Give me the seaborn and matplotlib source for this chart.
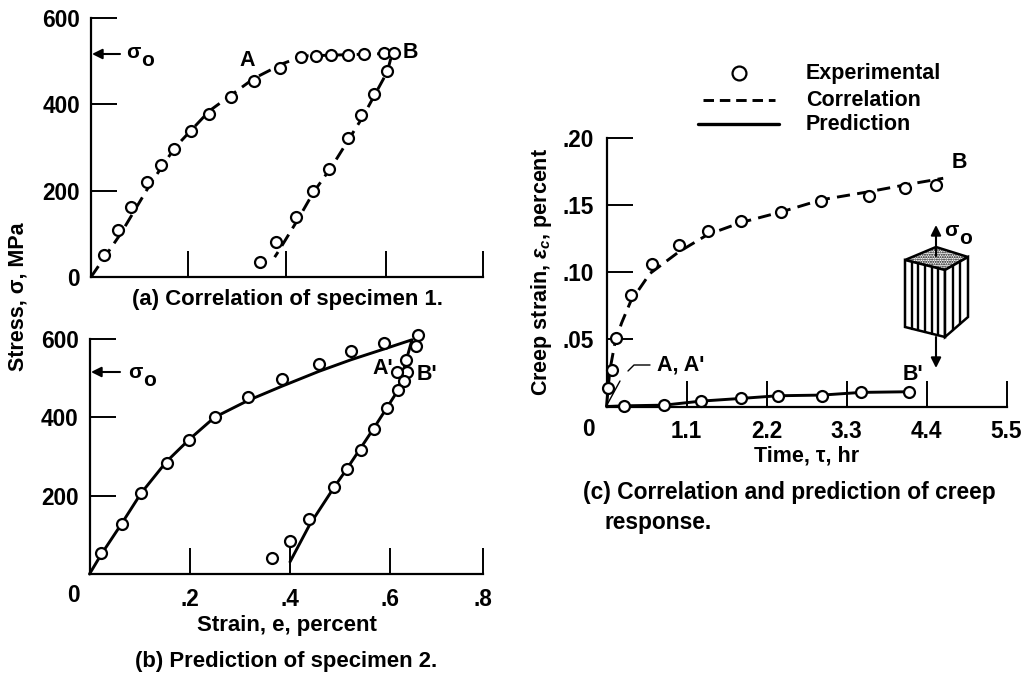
import matplotlib
matplotlib.use('Agg')
import matplotlib.pyplot as plt
import numpy as np
import seaborn as sns

# ~~~ values ~~~
# (a) specimen 1
a_exp_x = [.027, .055, .081, .113, .141, .169, .203, .239, .284, .330, .382, .426, .455, .486, .520, .553, .593, .613,
           .600, .574, .546, .520, .483, .449, .416, .374, .343]
a_exp_y = [52, 110, 163, 220, 260, 297, 339, 378, 416, 454, 485, 510, 513, 515, 515, 516, 520, 519,
           478, 423, 375, 322, 251, 200, 139, 81, 35]
a_line_x = [0, .06, .12, .17, .24, .33, .39, .43, .61, .60, .55, .49, .45, .42, .38, .372]
a_line_y = [0, 100, 215, 300, 385, 460, 495, 512, 518, 475, 370, 260, 195, 135, 60, 46]
a_xticks = [.197, .395, .598, .794]

# (b) specimen 2
b_exp_x = [.023, .064, .103, .154, .199, .250, .317, .384, .458, .523, .588, .656,
           .652, .633, .635, .614, .628, .617, .594, .568, .542, .514, .489, .438, .400, .364]
b_exp_y = [53, 128, 206, 284, 343, 400, 452, 498, 535, 569, 589, 610,
           581, 546, 515, 515, 493, 469, 423, 371, 316, 267, 221, 141, 84, 40]
b_line_x = [0, .023, .064, .103, .154, .199, .250, .317, .384, .458, .523, .588, .645,
            .630, .617, .568, .514, .489, .440, .401]
b_line_y = [0, 49, 128, 206, 287, 343, 400, 443, 479, 517, 547, 574, 598,
            530, 469, 371, 267, 221, 125, 31]
b_xticks = [.2, .4, .6, .787]
b_xlabels = ['.2', '.4', '.6', '.8']

# (c) creep
c_corr_x = [.014, .073, .128, .330, .619, .990, 1.389, 1.847, 2.406, 2.956, 3.611, 4.102, 4.533]
c_corr_y = [.014, .027, .051, .083, .106, .120, .131, .138, .145, .153, .157, .163, .165]
c_pred_x = [.243, .793, 1.297, 1.847, 2.356, 2.961, 3.501, 4.157]
c_pred_y = [.0005, .001, .004, .006, .008, .008, .011, .011]
c_cline_x = [0, .046, .115, .206, .33, .596, .99, 1.389, 1.847, 2.406, 2.956, 3.611, 4.10, 4.63]
c_cline_y = [0, .027, .047, .062, .078, .099, .115, .128, .137, .145, .154, .160, .165, .170]
c_pline_x = [0, .243, .793, 1.297, 1.847, 2.356, 2.961, 3.501, 4.157]
c_pline_y = [0, .0005, .001, .004, .006, .008, .0085, .0105, .011]
c_xticks = [1.1, 2.2, 3.3, 4.4, 5.5]
c_xlabels = ['1.1', '2.2', '3.3', '4.4', '5.5']
c_yticks = [.05, .10, .15, .20]
c_ylabels = ['.05', '.10', '.15', '.20']
stress_ticks = [200, 400, 600]
stress_labels = ['200', '400', '600']

W, H = 1025, 677
DASH = (0, (4.5, 2.5))
FS = 15.5

sns.set_style('ticks')
plt.rcParams['font.family'] = ['Liberation Sans', 'DejaVu Sans']
plt.rcParams['font.weight'] = 'bold'
plt.rcParams['mathtext.fontset'] = 'custom'
plt.rcParams['mathtext.rm'] = 'Liberation Sans:bold'
plt.rcParams['mathtext.it'] = 'Liberation Sans:italic:bold'
plt.rcParams['mathtext.bf'] = 'Liberation Sans:bold'

fig = plt.figure(figsize=(W / 100, H / 100), dpi=100)


def panel(left, top, right, bottom):
    """ axes placed by its pixel box """
    ax = fig.add_axes([left / W, 1 - bottom / H, (right - left) / W, (bottom - top) / H])
    sns.despine(ax=ax)
    ax.patch.set_alpha(0)
    for side in ['left', 'bottom']:
        ax.spines[side].set_linewidth(1.6)
        ax.spines[side].set_color('black')
    ax.tick_params(direction='in', length=19, width=1.4, color='black', labelsize=16.3, labelcolor='black')
    ax.set(xlabel='', ylabel='')
    return ax


def draw(ax, line_x, line_y, style):
    sns.lineplot(x=line_x, y=line_y, sort=False, estimator=None, color='black', lw=2.1,
                 linestyle=style, ax=ax, zorder=2, clip_on=False)


def dots(ax, x, y):
    sns.scatterplot(x=x, y=y, s=62, marker='o', color='white', edgecolor='black', linewidth=1.6,
                    ax=ax, zorder=3, clip_on=False)


# panel a
ax_a = panel(91, 18, 483, 277)
draw(ax_a, a_line_x, a_line_y, DASH)
dots(ax_a, a_exp_x, a_exp_y)
ax_a.set_xlim(0, .794)
ax_a.set_ylim(0, 600)
ax_a.set_xticks(a_xticks)
ax_a.set_xticklabels([])
ax_a.set_yticks([0] + stress_ticks)
ax_a.set_yticklabels(['0'] + stress_labels)
ax_a.tick_params(axis='y', pad=8)

# panel b
ax_b = panel(89.5, 339, 483, 574)
draw(ax_b, b_line_x, b_line_y, '-')
dots(ax_b, b_exp_x, b_exp_y)
ax_b.set_xlim(0, .787)
ax_b.set_ylim(0, 600)
ax_b.set_xticks(b_xticks)
ax_b.set_xticklabels(b_xlabels)
ax_b.set_yticks(stress_ticks)
ax_b.set_yticklabels(stress_labels)
ax_b.tick_params(axis='y', pad=8)
ax_b.tick_params(axis='x', pad=10)

# panel c
ax_c = panel(606.5, 138, 1006.5, 406.5)
draw(ax_c, c_cline_x, c_cline_y, DASH)
draw(ax_c, c_pline_x, c_pline_y, '-')
dots(ax_c, c_corr_x, c_corr_y)
dots(ax_c, c_pred_x, c_pred_y)
ax_c.set_xlim(0, 5.5)
ax_c.set_ylim(0, .20)
ax_c.set_xticks(c_xticks)
ax_c.set_xticklabels(c_xlabels)
ax_c.set_yticks(c_yticks)
ax_c.set_yticklabels(c_ylabels)
ax_c.tick_params(axis='y', pad=9)
ax_c.tick_params(axis='x', pad=10)

# overlay in pixels for the notes, legend and sketch
over = fig.add_axes([0, 0, 1, 1])
over.set_xlim(0, W)
over.set_ylim(H, 0)
over.axis('off')
over.patch.set_alpha(0)


def note(x, y, s, ha='left', **kw):
    over.text(x, y, s, ha=ha, va='center', fontsize=kw.pop('fontsize', FS), color='black', **kw)


def arrow(x0, y0, x1, y1):
    over.annotate('', xy=(x1, y1), xytext=(x0, y0),
                  arrowprops=dict(arrowstyle='-|>', color='black', lw=1.5, mutation_scale=15, shrinkA=0, shrinkB=0))


def sigma_o(x, y):
    # sigma with its lowered o
    note(x, y, 'σ', fontsize=15)
    note(x + 15, y + 8, 'o', fontsize=15)


arrow(120, 54, 92, 54)
sigma_o(126, 53)
arrow(120, 372, 91, 372)
sigma_o(128, 373)
note(247, 61, 'A', ha='center')
note(410, 52, 'B', ha='center')
note(383, 368, "A'", ha='center')
note(427, 375, "B'", ha='center')
note(73, 596, '0', ha='center', fontsize=16.3)
note(588, 429, '0', ha='center', fontsize=16.3)
note(959, 163, 'B', ha='center')
note(913, 375, "B'", ha='center')
note(657, 365, "A, A'")

# leader for A, A'
over.plot([608, 620], [403, 381], color='black', lw=1)
over.plot([628, 634, 650], [371, 365, 365], color='black', lw=1)

# axis labels and captions
note(18, 297, 'Stress, σ, MPa', ha='center', rotation=90)
note(541, 272, r'Creep strain, $\epsilon_c$, percent', ha='center', rotation=90)
note(287, 625, 'Strain, e, percent', ha='center', fontsize=16)
note(807, 456, 'Time, τ, hr', ha='center')
note(132, 299, '(a) Correlation of specimen 1.', fontsize=15.9)
note(135, 662, '(b) Prediction of specimen 2.', fontsize=15.9)
note(583, 493, '(c) Correlation and prediction of creep', fontsize=16.4)
note(605, 522, 'response.', fontsize=16.4)

# legend
over.plot([739], [73], marker='o', ms=10, mfc='white', mec='black', mew=1.6, ls='none')
over.plot([703, 775], [100, 100], color='black', lw=2.1, linestyle=(0, (3.6, 2)))
over.plot([698, 779], [124, 124], color='black', lw=2.4)
note(806, 73, 'Experimental')
note(806, 100, 'Correlation')
note(806, 124, 'Prediction')

# sketch of the composite block
top_face = [(905, 260), (936, 247), (968, 257), (945, 270)]
left_face = [(905, 260), (945, 270), (945, 337), (905, 327)]
right_face = [(945, 270), (968, 257), (968, 317), (945, 337)]
over.add_patch(plt.Polygon(top_face, closed=True, fc='white', ec='black', lw=1.8, hatch='.......'))
over.add_patch(plt.Polygon(left_face, closed=True, fc='white', ec='black', lw=1.8))
over.add_patch(plt.Polygon(right_face, closed=True, fc='white', ec='black', lw=1.8))
for x in np.linspace(905, 945, 7)[1:-1]:
    over.plot([x, x], [260 + (x - 905) * .25, 327 + (x - 905) * .25], color='black', lw=1.7)
for x in np.linspace(945, 968, 4)[1:-1]:
    over.plot([x, x], [270 - (x - 945) * .565, 337 - (x - 945) * .87], color='black', lw=1.7)
arrow(936, 256, 936, 225)
arrow(936, 337, 936, 368)
sigma_o(944, 231)

fig.savefig('out.png', dpi=100)
